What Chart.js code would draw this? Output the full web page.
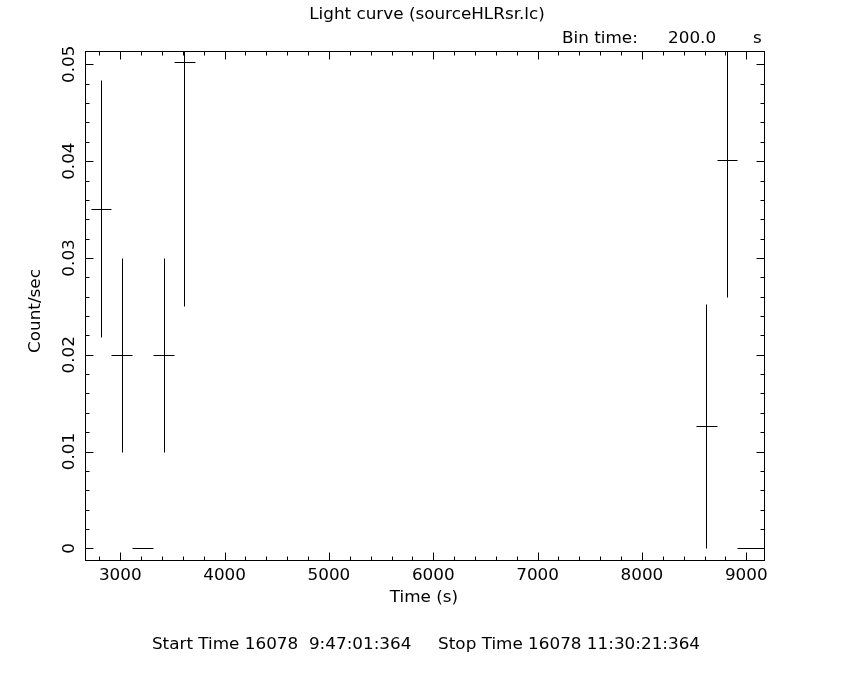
<!DOCTYPE html>
<html>
<head>
<meta charset="utf-8">
<script src="https://cdn.jsdelivr.net/npm/chart.js@4/dist/chart.umd.min.js"></script>
<style>
  html, body { margin: 0; padding: 0; background: #fff; }
  #wrap { width: 850px; height: 680px; }
</style>
</head>
<body>
<div id="wrap"><canvas id="lc" width="850" height="680"></canvas></div>
<script>
// light curve bins (200 s), centre times in seconds
const binTimes = [2815, 3015, 3215, 3415, 3615, 8615, 8815, 9015];
const countRates = [0.0351, 0.0200, 0.0, 0.0200, 0.0502, 0.01262, 0.04016, 0.0];
const rateErrors = [0.0133, 0.0100, 0.0, 0.0100, 0.0252, 0.0126, 0.0142, 0.0];
const binHalfWidth = 100;

const xMajorTicks = [3000, 4000, 5000, 6000, 7000, 8000, 9000];
const yMajorTicks = [0, 0.01, 0.02, 0.03, 0.04, 0.05];
const yTickLabels = ['0', '0.01', '0.02', '0.03', '0.04', '0.05'];
const xMinorStep = 200;
const yMinorStep = 0.002;

const xMin = 2662, xMax = 9170;
const yMin = -0.00121, yMax = 0.05138;

const FONT = '15px "DejaVu Sans", sans-serif';
const STRETCH = 1.12; // plot font is wider than DejaVu

function drawText(ctx, txt, x, y, align, rot) {
    ctx.save();
    ctx.translate(x, y);
    if (rot) ctx.rotate(rot);
    ctx.scale(STRETCH, 1);
    ctx.textAlign = align;
    ctx.textBaseline = 'middle';
    ctx.fillText(txt, 0, 0);
    ctx.restore();
}

// draws the frame, inward ticks, labels and error-bar crosses
const qdpPlugin = {
    id: 'qdp',
    afterDatasetsDraw(chart) {
        const ctx = chart.ctx;
        const area = chart.chartArea;
        const xs = chart.scales.x;
        const ys = chart.scales.y;
        const px = v => Math.round(xs.getPixelForValue(v)) + 0.5;
        const py = v => Math.round(ys.getPixelForValue(v)) + 0.5;

        ctx.save();
        ctx.strokeStyle = '#000';
        ctx.lineWidth = 1;

        // error bars, clipped to the plot box
        ctx.save();
        ctx.beginPath();
        ctx.rect(area.left, area.top, area.right - area.left, area.bottom - area.top);
        ctx.clip();
        ctx.beginPath();
        binTimes.forEach((t, i) => {
            const y = py(countRates[i]);
            ctx.moveTo(px(t - binHalfWidth), y);
            ctx.lineTo(px(t + binHalfWidth), y);
            if (rateErrors[i] > 0) {
                ctx.moveTo(px(t), py(countRates[i] - rateErrors[i]));
                ctx.lineTo(px(t), py(countRates[i] + rateErrors[i]));
            }
        });
        ctx.stroke();
        ctx.restore();

        // frame
        const L = Math.round(area.left) + 0.5, R = Math.round(area.right) + 0.5;
        const T = Math.round(area.top) + 0.5, B = Math.round(area.bottom) + 0.5;
        ctx.strokeRect(L, T, R - L, B - T);

        // x ticks (bottom and top)
        ctx.beginPath();
        for (let v = Math.ceil(xMin / xMinorStep) * xMinorStep; v <= xMax; v += xMinorStep) {
            const len = v % 1000 === 0 ? 8 : 4;
            const x = px(v);
            ctx.moveTo(x, B); ctx.lineTo(x, B - len);
            ctx.moveTo(x, T); ctx.lineTo(x, T + len);
        }
        // y ticks (left and right)
        for (let k = Math.ceil(yMin / yMinorStep); k * yMinorStep <= yMax; k++) {
            const len = k % 5 === 0 ? 8 : 4;
            const y = py(k * yMinorStep);
            ctx.moveTo(L, y); ctx.lineTo(L + len, y);
            ctx.moveTo(R, y); ctx.lineTo(R - len, y);
        }
        ctx.stroke();

        // labels
        ctx.fillStyle = '#000';
        ctx.font = FONT;
        xMajorTicks.forEach(v => drawText(ctx, String(v), xs.getPixelForValue(v), 576, 'center'));
        drawText(ctx, 'Time (s)', 424, 598, 'center');

        yMajorTicks.forEach((v, i) => {
            drawText(ctx, yTickLabels[i], 70, ys.getPixelForValue(v), 'center', -Math.PI / 2);
        });
        drawText(ctx, 'Count/sec', 36, 311, 'center', -Math.PI / 2);

        drawText(ctx, 'Light curve (sourceHLRsr.lc)', 427, 15, 'center');

        drawText(ctx, 'Bin time:', 562, 39, 'left');
        drawText(ctx, '200.0', 668, 39, 'left');
        drawText(ctx, 's', 753, 39, 'left');

        drawText(ctx, 'Start Time 16078  9:47:01:364     Stop Time 16078 11:30:21:364', 426, 645, 'center');
        ctx.restore();
    }
};

new Chart(document.getElementById('lc'), {
    type: 'scatter',
    data: {
        datasets: [{
            label: 'rate',
            data: binTimes.map((t, i) => ({ x: t, y: countRates[i] })),
            pointRadius: 0,
            showLine: false
        }]
    },
    options: {
        responsive: false,
        animation: false,
        events: [],
        layout: { padding: { left: 85, top: 51, right: 86, bottom: 120 } },
        plugins: {
            legend: { display: false },
            tooltip: { enabled: false }
        },
        scales: {
            x: { type: 'linear', min: xMin, max: xMax, display: false },
            y: { type: 'linear', min: yMin, max: yMax, display: false }
        }
    },
    plugins: [qdpPlugin]
});
</script>
</body>
</html>
